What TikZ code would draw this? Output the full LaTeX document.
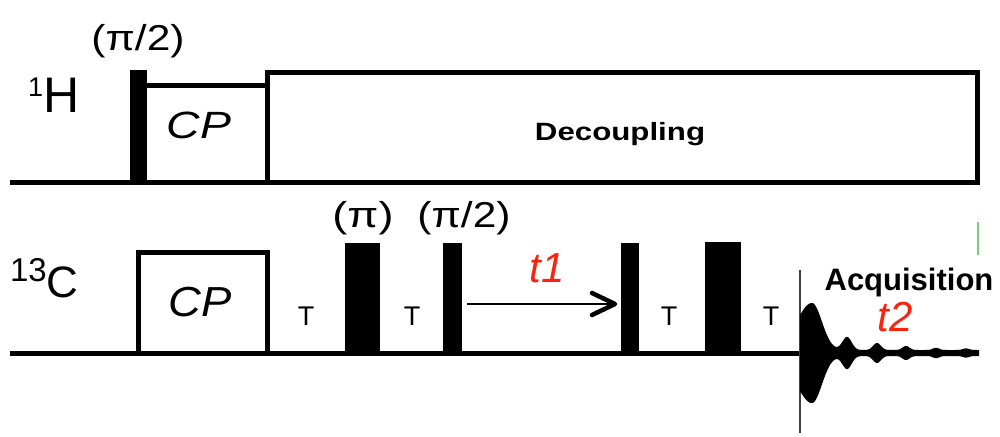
\documentclass[tikz,border=0pt]{standalone}
\usepackage{fontspec}
\usepackage{graphicx}
\setmainfont{Liberation Sans}
\usetikzlibrary{calc}
\definecolor{tred}{RGB}{250,35,15}
\definecolor{artgreen}{RGB}{130,200,130}
\tikzset{
  seqline/.style={line width=5pt, line join=miter, line cap=butt},
  pulse/.style={fill=black, draw=none, inner sep=0pt, outer sep=0pt, anchor=south west},
  lab/.style={inner sep=0pt, outer sep=0pt, text=black},
  tlab/.style={lab, font=\fontsize{27}{27}\selectfont},
  rlab/.style={lab, text=tred, font=\fontsize{42}{42}\selectfont\itshape},
  plab/.style={lab, font=\fontsize{36}{36}\selectfont},
  declare function={
    gb(\x,\c,\w)=exp(-min(((\x-\c)/\w)^2,40));
    main(\x)=47*exp(-(min(\x-812,0)/22)^2-(max(\x-812,0)/14)^2);
    fid(\x)=3+main(\x)+13*gb(\x,847,6.5)+7*gb(\x,877,5.5)+4*gb(\x,906,5)+2.2*gb(\x,936,4.5)+1.6*gb(\x,966,4.5);
  },
}
\begin{document}
\begin{tikzpicture}[x=1pt, y=-1pt]
\useasboundingbox (0,0) rectangle (1000,436);
% ---------- 1H channel ----------
\draw[seqline] (10,182) -- (980,182);
\draw[seqline] (144,85) -- (267,85) -- (267,182);
\draw[seqline] (267,72) rectangle (977,182);
\node[pulse, minimum width=17.5pt, minimum height=112pt] (pH) at (129.5,182) {};
% ---------- 13C channel ----------
\draw[seqline] (10,353) -- (800,353);
\draw[seqline] (138,252) rectangle (267,353);
\node[pulse, minimum width=35pt, minimum height=110pt] (pa) at (345,353) {};
\node[pulse, minimum width=19pt, minimum height=110pt] (pb) at (443,353) {};
\node[pulse, minimum width=18pt, minimum height=110pt] (pc) at (621,353) {};
\node[pulse, minimum width=36pt, minimum height=111pt] (pd) at (705,353) {};
% t1 evolution arrow
\coordinate (aS) at ([xshift=5pt,yshift=49pt]pb.south east);
\coordinate (aE) at ([xshift=-6pt,yshift=49pt]pc.south west);
\draw[line width=2pt] (aS) -- (aE);
\draw[line width=4.5pt, line cap=round, line join=round]
  ($(aE)+(-23,-11)$) -- (aE) -- ($(aE)+(-23,11)$);
% acquisition
\draw[line width=1.2pt, black!75] (800,270) -- (800,433);
\fill[black] plot[domain=800:979, samples=400] (\x, {353 - fid(\x)})
  -- plot[domain=979:800, samples=400] (\x, {353 + fid(\x)})
  -- cycle;
\draw[artgreen, line width=1.5pt] (978,222) -- (978,255);
% ---------- labels ----------
\node[lab, anchor=base west] (lH) at (28,112)
  {\fontsize{27}{27}\selectfont\raisebox{16pt}{1}\fontsize{50}{50}\selectfont H};
\node[lab, anchor=base west] (lC) at (10,297)
  {\fontsize{33}{33}\selectfont\raisebox{16pt}{13}\fontsize{44}{44}\selectfont C};
\node[plab] (lp1) at (138,41) {\scalebox{1.18}[1]{(π/2)}};
\node[plab] (lp2) at (363,218) {\scalebox{1.25}[1]{(π)}};
\node[plab] (lp3) at (464,218) {\scalebox{1.18}[1]{(π/2)}};
\node[lab] (cp1) at (199,125) {\fontsize{38}{38}\selectfont\itshape\scalebox{1.22}[1]{CP}};
\node[lab] (cp2) at (200,302) {\fontsize{42}{42}\selectfont\itshape\scalebox{1.08}[1]{CP}};
\node[lab, anchor=base] (dec) at (620,140) {\fontsize{25}{25}\selectfont\bfseries\scalebox{1.25}[1]{Decoupling}};
\node[lab, anchor=base] (acq) at (909,290) {\fontsize{31}{31}\selectfont\bfseries Acquisition};
\node[tlab] (T1) at (306,316) {T};
\node[tlab] (T2) at (412,316) {T};
\node[tlab] (T3) at (669,316) {T};
\node[tlab] (T4) at (771,316) {T};
\node[rlab] (t1) at (547,268) {t1};
\node[rlab] (t2) at (895,317) {t2};
\end{tikzpicture}
\end{document}
